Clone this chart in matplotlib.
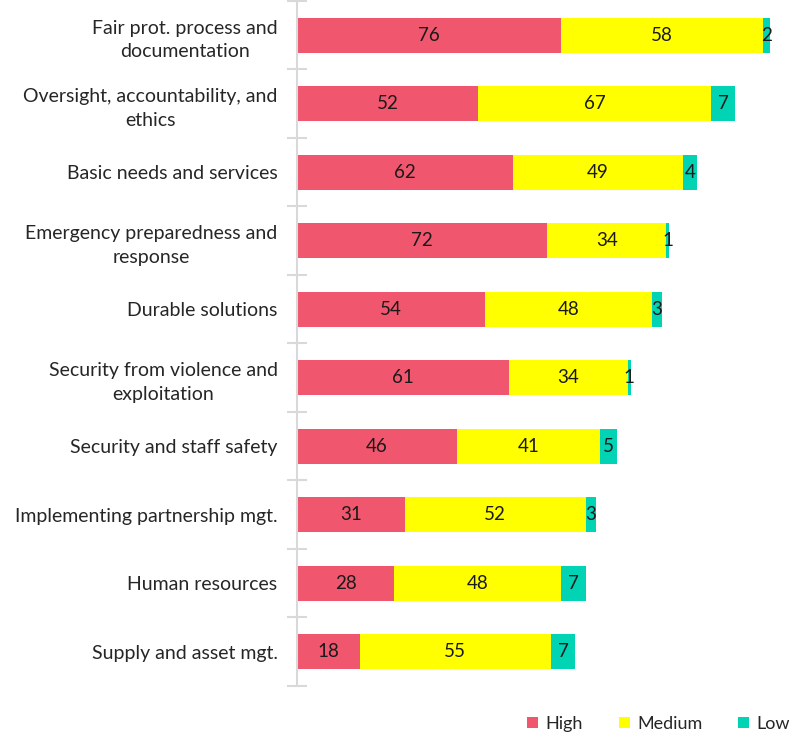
import numpy as np
import matplotlib.pyplot as plt
import matplotlib

matplotlib.rc("font", family=["Lato", "DejaVu Sans"])

categories = ["Fair prot. process and\ndocumentation",
              "Oversight, accountability, and\nethics",
              "Basic needs and services",
              "Emergency preparedness and\nresponse",
              "Durable solutions",
              "Security from violence and\nexploitation",
              "Security and staff safety",
              "Implementing partnership mgt.",
              "Human resources",
              "Supply and asset mgt."]
high = [76, 52, 62, 72, 54, 61, 46, 31, 28, 18]
medium = [58, 67, 49, 34, 48, 34, 41, 52, 48, 55]
low = [2, 7, 4, 1, 3, 1, 5, 3, 7, 7]

colors = {"High": "#F0566E", "Medium": "#FFFF00", "Low": "#00D4B4"}

fig = plt.figure(figsize=(7.92, 7.35), dpi=100)
ax = fig.add_axes([0.375, 0.0667, 0.622, 0.932])

y = np.arange(len(categories))
h = np.array(high)
m = np.array(medium)
l = np.array(low)
ax.barh(y, h, height=0.51, color=colors["High"], label="High")
ax.barh(y, m, left=h, height=0.51, color=colors["Medium"], label="Medium")
ax.barh(y, l, left=h + m, height=0.51, color=colors["Low"], label="Low")

# labels centred in each segment
for i in range(len(categories)):
    ax.text(h[i] / 2, y[i], str(h[i]), ha="center", va="center", fontsize=13.5, color="#1a1a1a")
    ax.text(h[i] + m[i] / 2, y[i], str(m[i]), ha="center", va="center", fontsize=13.5, color="#1a1a1a")
    ax.text(h[i] + m[i] + l[i] / 2, y[i], str(l[i]), ha="center", va="center", fontsize=13.5, color="#1a1a1a")

ax.set_xlim(0, 141.6)
ax.set_ylim(len(categories) - 0.5, -0.5)
ax.set_xticks([])
ax.set_yticks(y)
ax.set_yticklabels(categories, fontsize=14, color="#262626", linespacing=1.45,
                   multialignment="center")
ax.set_yticks(np.arange(-0.5, len(categories), 1), minor=True)
ax.tick_params(axis="y", which="major", length=0, pad=14)
ax.tick_params(axis="y", which="minor", length=14, direction="inout", color="#d9d9d9", width=1.5)
for s in ["top", "right", "bottom"]:
    ax.spines[s].set_visible(False)
ax.spines["left"].set_color("#d9d9d9")
ax.spines["left"].set_linewidth(1.5)

fig.legend(loc="lower right", bbox_to_anchor=(1.018, -0.018), ncol=3, frameon=False,
           fontsize=13, handlelength=0.6, handleheight=0.6, handletextpad=0.4,
           columnspacing=2.0, labelcolor="#262626")

fig.savefig("out.png", dpi=100)
